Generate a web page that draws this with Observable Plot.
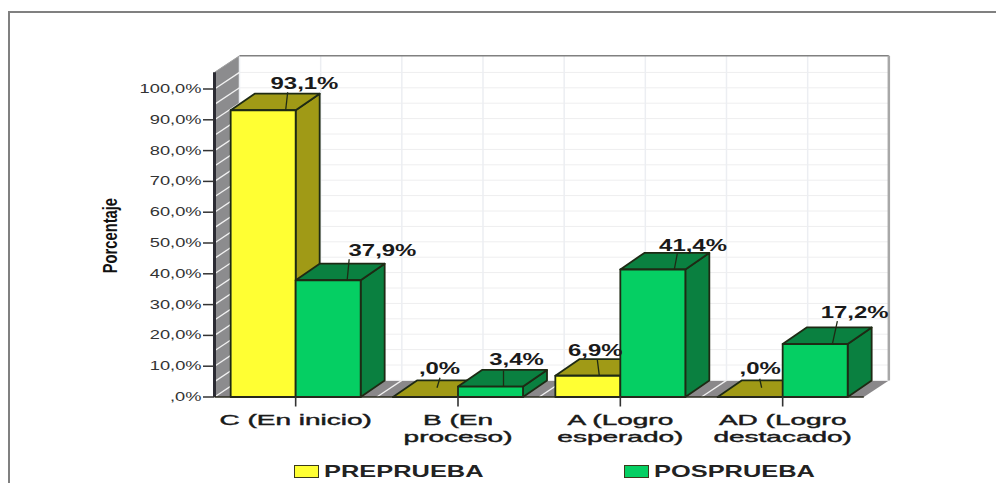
<!DOCTYPE html>
<html lang="es">
<head>
<meta charset="utf-8">
<script src="https://cdn.jsdelivr.net/npm/d3@7"></script>
<script src="https://cdn.jsdelivr.net/npm/@observablehq/plot@0.6"></script>
<style>
  html, body { margin: 0; padding: 0; background: #fff; overflow: hidden; }
  #chart { position: relative; width: 996px; height: 483px; font-family: "Liberation Sans", Arial, sans-serif; }
  #chart svg { position: absolute; left: 0; top: 0; background: transparent; }
  .frame { position: absolute; left: 8px; top: 11px; right: 0; bottom: 0; border-left: 2px solid #808080; border-top: 2px solid #808080; }
  .legend-item { position: absolute; top: 465px; height: 13px; }
  .swatch { position: absolute; left: 0; top: 0; width: 23px; height: 11px; border: 1px solid #3a3a1a; }
  .legend-label { position: absolute; top: -3px; font-weight: bold; font-size: 16.5px; color: #222; transform-origin: 0 50%; transform: scaleX(1.54); white-space: nowrap; }
</style>
</head>
<body>
<div id="chart"><div class="frame"></div></div>
<script>
// Nivel de logro por categoria, antes y despues de la prueba
const categories = ["C (En inicio)", "B (En\nproceso)", "A (Logro\nesperado)", "AD (Logro\ndestacado)"];
const prePrueba = [93.1, 0, 6.9, 0];
const posPrueba = [37.9, 3.4, 41.4, 17.2];
const seriesNames = ["PREPRUEBA", "POSPRUEBA"];
const valueLabels = [["93,1%", ",0%", "6,9%", ",0%"], ["37,9%", "3,4%", "41,4%", "17,2%"]];
const yTicks = d3.range(0, 101, 10);

// Caras de cada barra por serie: frente, lateral, tapa
const faceColors = [
  { front: "#ffff33", side: "#a09a16", top: "#a09a16" },
  { front: "#05cf63", side: "#0a8040", top: "#0a8040" }
];

// Disposicion de la grafica
const width = 996, height = 460;
const marginLeft = 214, marginRight = 132.67, marginTop = 88.5, marginBottom = 63.5;
const pxPerCat = (width - marginLeft - marginRight) / 4;
const pxPerPct = (height - marginTop - marginBottom) / 100;
const wallDx = 25 / pxPerCat, wallDy = 16.6 / pxPerPct;   // fondo de la caja 3D
const barDx = 24 / pxPerCat, barDy = 16.6 / pxPerPct;     // fondo de cada barra
const barW = 65 / pxPerCat;

// Ajustes de etiqueta y linea guia de cada barra, en pixeles
const labelDx = [[73.8, 46.5, 40, 42.5], [86.8, 58.5, 72.7, 72]];
const labelDy = [[26.7, 28.5, 25, 28.5], [29.8, 27, 24, 31.8]];
const leadX = [[55, 44, 44, 44], [51.5, 45.5, 54, 49.7]];
const leadTilt = [[2, 3, -2, -2], [2, 0, 3, 5]];
const leadLen = [[18, 10, 16, 9], [21, 16, 16, 23]];

const polys = [];
function poly(id, pts, fill, stroke) {
  pts.forEach(([x, y]) => polys.push({ id, x, y, fill, stroke }));
}

// Caja: pared izquierda, suelo y pared trasera
const x0 = -0.5, x1 = 3.5, wallTop = 105.4;
const box = [];
box.push({ id: "back", pts: [[x0 + wallDx, wallDy], [x1 + wallDx, wallDy], [x1 + wallDx, wallTop + wallDy], [x0 + wallDx, wallTop + wallDy]], fill: "#ffffff" });
box.push({ id: "left", pts: [[x0, 0], [x0 + wallDx, wallDy], [x0 + wallDx, wallTop + wallDy], [x0, wallTop]], fill: "#8c8c8e" });
box.push({ id: "floor", pts: [[x0, 0], [x1, 0], [x1 + wallDx, wallDy], [x0 + wallDx, wallDy]], fill: "#8a888a" });
const boxRows = box.flatMap(b => b.pts.map(([x, y]) => ({ id: b.id, x, y, fill: b.fill })));

// Barras: cada una con lateral, tapa y frente
const leaders = [];
const labels = [];
categories.forEach((_, i) => {
  [prePrueba[i], posPrueba[i]].forEach((v, s) => {
    const a = i - barW + s * barW, b = a + barW;
    const c = faceColors[s];
    const dark = "#1e2a14";
    poly(`${i}-${s}-side`, [[b, 0], [b + barDx, barDy], [b + barDx, v + barDy], [b, v]], c.side, dark);
    poly(`${i}-${s}-top`, [[a, v], [b, v], [b + barDx, v + barDy], [a + barDx, v + barDy]], c.top, dark);
    poly(`${i}-${s}-front`, [[a, 0], [b, 0], [b, v], [a, v]], c.front, dark);
    const lx = a + leadX[s][i] / pxPerCat;
    const start = v === 0 ? 3 : 0;
    leaders.push({
      x1: lx, y1: v + start,
      x2: lx + leadTilt[s][i] / pxPerCat, y2: v + start + leadLen[s][i] / pxPerPct
    });
    labels.push({
      x: a + labelDx[s][i] / pxPerCat,
      y: v + labelDy[s][i] / pxPerPct,
      text: valueLabels[s][i]
    });
  });
});

const gridPct = d3.range(0, 101, 5);
const gridCat = d3.range(x0, x1 + 0.01, 0.5);

const plot = Plot.plot({
  width, height, marginLeft, marginRight, marginTop, marginBottom,
  x: { domain: [x0, x1], axis: null },
  y: { domain: [0, 100], axis: null },
  marks: [
    Plot.line(boxRows, { x: "x", y: "y", z: "id", fill: "fill", stroke: null, curve: "linear-closed" }),
    // Rejilla de la pared trasera
    Plot.ruleY(gridPct, { y: d => d + wallDy, x1: x0 + wallDx, x2: x1 + wallDx, stroke: "#eeeeef", strokeWidth: 1 }),
    Plot.ruleX(gridCat, { x: d => d + wallDx, y1: wallDy, y2: wallTop + wallDy, stroke: "#eceef2", strokeWidth: 1.5 }),
    // Lineas blancas de la pared izquierda y del suelo
    Plot.link(gridPct, { x1: x0, y1: d => d, x2: x0 + wallDx, y2: d => d + wallDy, stroke: "#f2f2f2", strokeWidth: 1.3 }),
    Plot.link(gridCat.slice(1, -1), { x1: d => d, y1: 0, x2: d => d + wallDx, y2: wallDy, stroke: "#f2f2f2", strokeWidth: 1.3 }),
    // Bordes de la caja
    Plot.link([0], { x1: x0 + wallDx, y1: wallTop + wallDy, x2: x1 + wallDx, y2: wallTop + wallDy, stroke: "#808080", strokeWidth: 1.5 }),
    Plot.link([0], { x1: x1 + wallDx, y1: wallDy, x2: x1 + wallDx, y2: wallTop + wallDy, stroke: "#a8a8a8", strokeWidth: 2.5 }),
    Plot.link([0], { x1: x0, y1: wallTop, x2: x0 + wallDx, y2: wallTop + wallDy, stroke: "#a0a0a0", strokeWidth: 1 }),
    Plot.line(polys, { x: "x", y: "y", z: "id", fill: "fill", stroke: "stroke", strokeWidth: 1.8, strokeLinejoin: "round", curve: "linear-closed" }),
    Plot.link([0], { x1: x0, y1: 0, x2: x0, y2: wallTop, stroke: "#2b2b33", strokeWidth: 3 }),
    Plot.link([0], { x1: x0, y1: 0, x2: x1, y2: 0, stroke: "#2a2a1e", strokeWidth: 1.6 }),
    Plot.link(leaders, { x1: "x1", y1: "y1", x2: "x2", y2: "y2", stroke: "#1e2a14", strokeWidth: 1.3 }),
    Plot.text(labels, { x: "x", y: "y", text: "text", fontWeight: "bold", fontSize: 16.5, fill: "#1a1a1a", className: "valor" }),
    Plot.axisY(yTicks, {
      anchor: "left", label: null, tickSize: 11, tickPadding: 2, stroke: "#333", strokeWidth: 1.5,
      tickFormat: d => (d === 0 ? ",0%" : d + ",0%"), fontSize: 12.5, fill: "#333"
    }),
    Plot.axisX([0, 1, 2, 3], {
      anchor: "bottom", label: null, tickSize: 10, tickPadding: 6, stroke: "#333", strokeWidth: 1.6,
      tickFormat: i => categories[i], fontSize: 14.5, lineHeight: 1.16, fill: "#1a1a1a"
    }),
    Plot.text(["Porcentaje"], { frameAnchor: "left", textAnchor: "middle", dx: -104, y: 52.4, rotate: -90, fontWeight: "bold", fontSize: 21, fill: "#111", className: "titulo" })
  ]
});
plot.style.fontFamily = '"Liberation Sans", Arial, sans-serif';

const root = document.getElementById("chart");
root.appendChild(plot);

// Ensancha o estrecha el texto ya medido
function stretch(selection, factor) {
  selection.each(function () {
    const tspans = this.querySelectorAll("tspan");
    (tspans.length ? [...tspans] : [this]).forEach(el => {
      el.setAttribute("textLength", el.getComputedTextLength() * factor);
      el.setAttribute("lengthAdjust", "spacingAndGlyphs");
    });
  });
}
const svg = d3.select(plot);
stretch(svg.selectAll('g[aria-label="y-axis tick label"] text'), 1.46);
stretch(svg.selectAll('g[aria-label="x-axis tick label"] text'), 1.93);
stretch(svg.selectAll(".valor text"), 1.45);
stretch(svg.selectAll(".titulo text"), 0.7);
// Trazo fino para engrosar las etiquetas de categoria
svg.selectAll('g[aria-label="x-axis tick label"] text').attr("stroke", "#1a1a1a").attr("stroke-width", 0.4);

// Leyenda bajo la grafica
const legendX = [294, 624];
const labelLeft = [30, 30];
seriesNames.forEach((name, s) => {
  const item = document.createElement("div");
  item.className = "legend-item";
  item.style.left = legendX[s] + "px";
  const sw = document.createElement("span");
  sw.className = "swatch";
  sw.style.background = faceColors[s].front;
  const lab = document.createElement("span");
  lab.className = "legend-label";
  lab.style.left = labelLeft[s] + "px";
  lab.textContent = name;
  item.append(sw, lab);
  root.appendChild(item);
});
</script>
</body>
</html>
